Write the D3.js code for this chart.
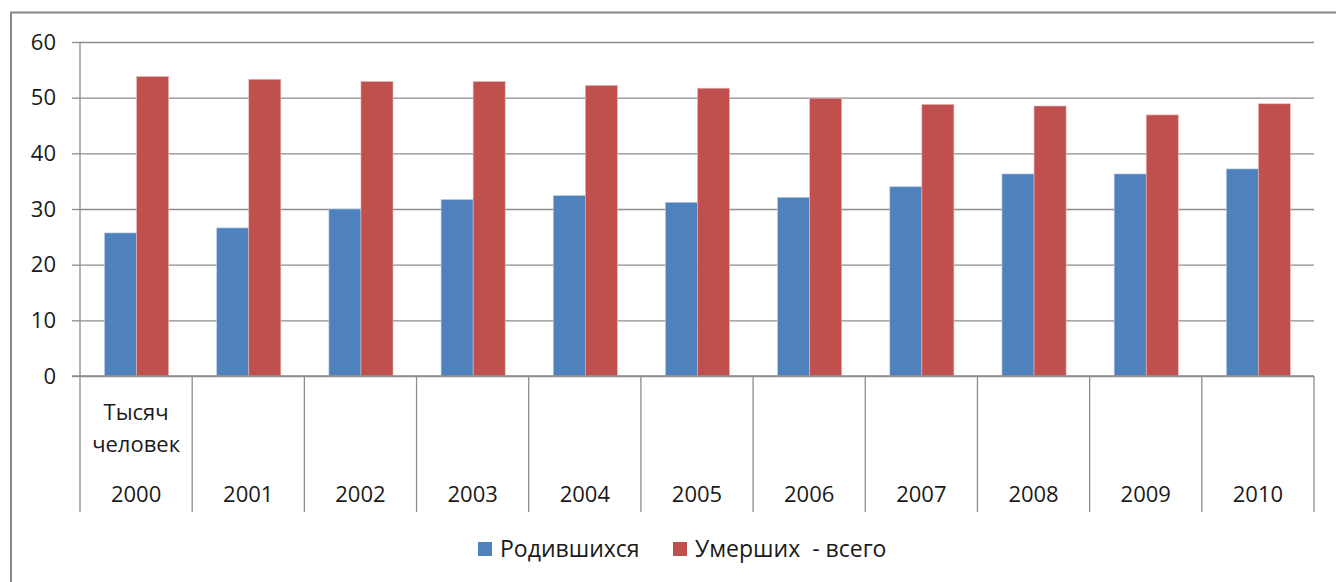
<html>
<head>
  <meta charset="utf-8">
  <style>
    html, body { margin: 0; padding: 0; background: #fff; }
    svg { display: block; }
    text { font-family: "Open Sans", "Noto Sans", sans-serif; fill: #1a1a1a; }
  </style>
  <script src="https://d3js.org/d3.v7.js" charset="utf-8"></script>
</head>
<body>
<script>
  // data
  var years = ['2000', '2001', '2002', '2003', '2004', '2005', '2006', '2007', '2008', '2009', '2010'];
  var born = [25.7, 26.6, 30.0, 31.7, 32.4, 31.2, 32.1, 34.0, 36.3, 36.3, 37.2];
  var died = [53.8, 53.3, 52.9, 52.9, 52.2, 51.7, 49.9, 48.8, 48.5, 46.9, 48.9];
  var seriesNames = ['Родившихся', 'Умерших  - всего'];
  var colors = ['#4F81BD', '#C0504D'];
  var yTicks = [0, 10, 20, 30, 40, 50, 60];

  var width = 1336, height = 582;
  var plotLeft = 80, plotRight = 1314, plotTop = 42, plotBottom = 376;

  var svg = d3.select('body').append('svg')
    .attr('width', width)
    .attr('height', height);

  // outer frame
  svg.append('rect')
    .attr('x', 11).attr('y', 12.5)
    .attr('width', 1340).attr('height', 600)
    .attr('fill', 'none')
    .attr('stroke', '#868686')
    .attr('stroke-width', 2);

  var x = d3.scaleBand().domain(years).range([plotLeft, plotRight]).paddingInner(0).paddingOuter(0);
  var y = d3.scaleLinear().domain([0, 60]).range([plotBottom, plotTop]);
  var inner = d3.scaleBand().domain([0, 1]).range([0, x.bandwidth()]).paddingInner(0).paddingOuter(0.75);

  // gridlines
  svg.append('g')
    .attr('transform', 'translate(' + plotLeft + ',0)')
    .call(d3.axisLeft(y).tickValues(yTicks).tickSize(-(plotRight - plotLeft)).tickFormat(''))
    .call(g => g.select('.domain').remove())
    .call(g => g.selectAll('line').attr('stroke', '#8c8c8c').attr('stroke-width', 1.3));

  // y axis
  var yAxis = svg.append('g')
    .attr('transform', 'translate(' + plotLeft + ',0)')
    .call(d3.axisLeft(y).tickValues(yTicks).tickSize(8).tickPadding(16));
  yAxis.select('.domain').attr('stroke', '#8c8c8c').attr('stroke-width', 1.3).attr('d', 'M0,' + plotTop + 'V' + plotBottom);
  yAxis.selectAll('line').attr('stroke', '#8c8c8c').attr('stroke-width', 1.3);
  yAxis.selectAll('text').style('font-size', '22px').attr('fill', '#1a1a1a')
    .style('font-family', '"Open Sans", sans-serif');

  // bars
  var data = years.map((yr, i) => ({ year: yr, vals: [born[i], died[i]] }));
  var groups = svg.append('g').selectAll('g')
    .data(data)
    .enter().append('g')
    .attr('transform', d => 'translate(' + x(d.year) + ',0)');
  groups.selectAll('rect')
    .data(d => d.vals.map((v, k) => ({ k: k, v: v })))
    .enter().append('rect')
    .attr('x', d => inner(d.k) + 0.5)
    .attr('width', inner.bandwidth())
    .attr('y', d => y(d.v))
    .attr('height', d => y(0) - y(d.v))
    .attr('fill', d => colors[d.k])
    .attr('stroke', d => d.k === 0 ? '#b9cce4' : '#e6b9b8')
    .attr('stroke-width', 0.6);

  // category axis with separators
  var sep = svg.append('g');
  var bounds = years.map(d => x(d)).concat([plotRight]);
  sep.selectAll('line')
    .data(bounds)
    .enter().append('line')
    .attr('x1', d => d).attr('x2', d => d)
    .attr('y1', plotBottom).attr('y2', 512)
    .attr('stroke', '#8c8c8c').attr('stroke-width', 1.3);
  svg.append('line')
    .attr('x1', 72).attr('x2', plotRight)
    .attr('y1', plotBottom).attr('y2', plotBottom)
    .attr('stroke', '#8c8c8c').attr('stroke-width', 1.3);

  svg.append('g').selectAll('text')
    .data(years)
    .enter().append('text')
    .attr('x', d => x(d) + x.bandwidth() / 2)
    .attr('y', 502)
    .attr('text-anchor', 'middle')
    .style('font-size', '22px')
    .text(d => d);

  svg.append('text')
    .attr('x', x(years[0]) + x.bandwidth() / 2)
    .attr('y', 420)
    .attr('text-anchor', 'middle')
    .style('font-size', '22px')
    .text('Тысяч');
  svg.append('text')
    .attr('x', x(years[0]) + x.bandwidth() / 2)
    .attr('y', 452)
    .attr('text-anchor', 'middle')
    .style('font-size', '22px')
    .text('человек');

  // legend
  var legendX = [478, 673];
  var legend = svg.append('g').selectAll('g')
    .data(seriesNames)
    .enter().append('g')
    .attr('transform', (d, i) => 'translate(' + legendX[i] + ',542)');
  legend.append('rect')
    .attr('width', 14).attr('height', 14)
    .attr('fill', (d, i) => colors[i]);
  legend.append('text')
    .attr('x', 22).attr('y', 15)
    .style('font-size', '23px')
    .style('white-space', 'pre')
    .attr('xml:space', 'preserve')
    .text(d => d);
</script>
</body>
</html>
